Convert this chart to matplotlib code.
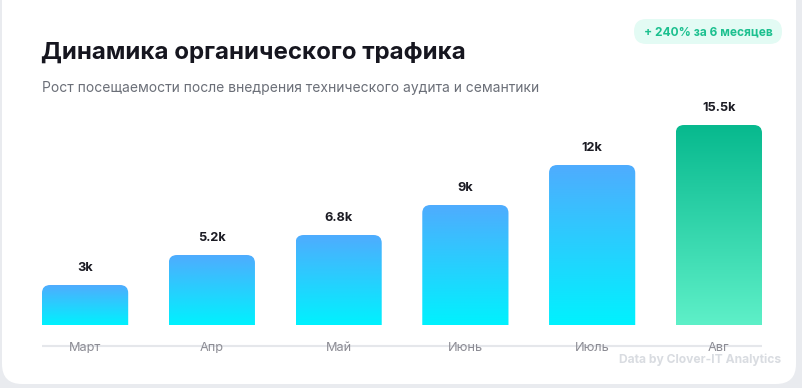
import numpy as np
import matplotlib
matplotlib.use("Agg")
from matplotlib import pyplot as plt
from matplotlib.patches import FancyBboxPatch
from matplotlib.colors import LinearSegmentedColormap

plt.rcParams['font.family'] = ['Inter', 'DejaVu Sans']

months = ['Март', 'Апр', 'Май', 'Июнь', 'Июль', 'Авг']
value_labels = ['3k', '5.2k', '6.8k', '9k', '12k', '15.5k']
# bar heights as shown in the picture (percent of the tallest bar)
bar_height_pct = [20, 35, 45, 60, 80, 100]

title = 'Динамика органического трафика'
subtitle = 'Рост посещаемости после внедрения технического аудита и семантики'
badge = '+ 240% за 6 месяцев'
footer = 'Data by Clover-IT Analytics'

W, H = 802, 388
fig = plt.figure(figsize=(W / 100, H / 100), dpi=100)
fig.patch.set_facecolor('#e9ebef')

# card (figure pixel coordinates)
bg = fig.add_axes([0, 0, 1, 1])
bg.set_xlim(0, W)
bg.set_ylim(H, 0)
bg.axis('off')
bg.add_patch(FancyBboxPatch((2, -20), 794, 404, boxstyle='round,pad=0,rounding_size=20',
                            facecolor='white', edgecolor='none'))
bg.add_patch(FancyBboxPatch((634, 19), 148, 25, boxstyle='round,pad=0,rounding_size=12.5',
                            facecolor='#e3fbf4', edgecolor='none'))
bg.text(708, 32, badge, ha='center', va='center', fontsize=8.6, fontweight='bold', color='#1cc08f')
bg.text(41, 53, title, ha='left', va='center', fontsize=17.3, fontweight='bold', color='#16161f')
bg.text(42, 88, subtitle, ha='left', va='center', fontsize=10.0, color='#6b6f78')
bg.text(781, 360, footer, ha='right', va='center', fontsize=8.7, fontweight='bold', color='#d9dce1')

# bar chart axes: 2 px per unit, baseline at y=325 px
ax = fig.add_axes([42 / W, (H - 360) / H, 720 / W, 235 / H])
ax.axis('off')
bar_w = 0.68
blue = LinearSegmentedColormap.from_list('blue', ['#00f2fe', '#4facfe'])
green = LinearSegmentedColormap.from_list('green', ['#5ef0c8', '#07b98e'])
grad = np.linspace(0, 1, 256).reshape(-1, 1)

for i, (h, lab, m) in enumerate(zip(bar_height_pct, value_labels, months)):
    cmap = green if i == len(months) - 1 else blue
    clip = FancyBboxPatch((i - bar_w / 2, -10), bar_w, h + 10,
                          boxstyle='round,pad=0,rounding_size=0.065',
                          mutation_aspect=4 / 0.065, facecolor='none', edgecolor='none')
    ax.add_patch(clip)
    im = ax.imshow(grad, cmap=cmap, origin='lower', aspect='auto',
                   extent=(i - bar_w / 2, i + bar_w / 2, 0, h), interpolation='bilinear')
    im.set_clip_path(clip)
    ax.text(i, h + 8.5, lab, ha='center', va='center', fontsize=9.2, fontweight='bold', color='#1c1c24')
    ax.text(i, -11.5, m, ha='center', va='center', fontsize=9.2, color='#8c8c94', zorder=3)

ax.axhline(-10.5, color='#e5e7eb', lw=1.5, zorder=1)
ax.set_xlim(-bar_w / 2, len(months) - 1 + bar_w / 2)
ax.set_ylim(-17.5, 100)

fig.savefig('out.png', dpi=100, facecolor=fig.get_facecolor())
